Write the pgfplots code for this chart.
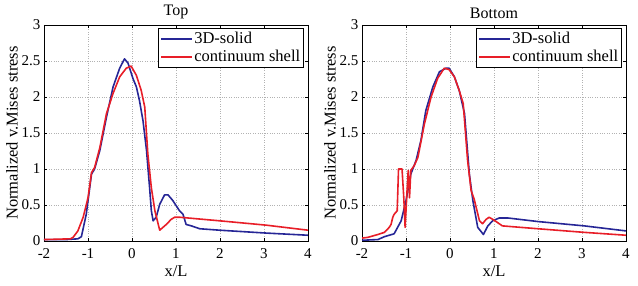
\documentclass[border=0pt]{standalone}
\usepackage{fontspec}
\setmainfont{Liberation Serif}
\usepackage{pgfplots}
\pgfplotsset{compat=1.18}
\definecolor{mblue}{RGB}{38,38,150}
\definecolor{mred}{RGB}{232,30,40}
\pgfplotsset{myax/.style={
  scale only axis, width=264pt, height=216pt,
  xmin=-2, xmax=4, ymin=0, ymax=3,
  xtick={-2,-1,0,1,2,3,4}, ytick={0,0.5,1,1.5,2,2.5,3},
  grid=major, grid style={dotted, gray!60, line width=0.6pt},
  tick align=inside, major tick length=3pt,
  tick style={black, line width=0.4pt},
  axis line style={black, line width=0.5pt},
  tick label style={font=\fontsize{15}{16}\selectfont},
  label style={font=\fontsize{16.5}{18}\selectfont},
  title style={font=\fontsize{16}{18}\selectfont, yshift=-3pt},
  /pgf/number format/assume math mode=true,
  xlabel={x/L}, ylabel={Normalized v.Mises stress},
  xlabel style={yshift=0pt},
  ylabel style={yshift=-3pt},
  xticklabel style={yshift=-4pt},
  yticklabel style={xshift=0pt},
  legend style={at={(0.9848,0.985)}, anchor=north east, draw=black, line width=0.6pt,
    font=\fontsize{16.5}{18}\selectfont, inner xsep=2pt, inner ysep=1.5pt, row sep=0pt,
    nodes={inner sep=1.5pt, text height=11.5pt, text depth=3.5pt}},
  legend cell align=left,
  legend image code/.code={\draw[#1] (0pt,0pt) -- (31pt,0pt);},
  every axis plot/.append style={line width=1.6pt, line join=round},
}}
\begin{document}
\begin{tikzpicture}
\useasboundingbox (0,0) rectangle (638pt,286pt);
\begin{axis}[myax, at={(44pt,45pt)}, anchor=south west, title={Top}]
\addplot[mblue] coordinates {
(-2,0.02) (-1.5,0.02) (-1.23,0.03) (-1.15,0.06) (-1.04,0.37) (-0.92,0.93) (-0.85,1.0) (-0.73,1.26)
(-0.58,1.72) (-0.43,2.14) (-0.28,2.40) (-0.17,2.53) (-0.09,2.47) (0.02,2.26) (0.1,2.14) (0.17,1.95)
(0.25,1.67) (0.33,1.26) (0.40,0.74) (0.44,0.42) (0.48,0.28) (0.55,0.33) (0.63,0.51) (0.74,0.64)
(0.82,0.64) (0.93,0.56) (1.08,0.42) (1.16,0.37) (1.23,0.23) (1.35,0.21) (1.54,0.17) (1.99,0.15)
(3.05,0.11) (4,0.08)};
\addlegendentry{3D-solid}
\addplot[mred] coordinates {
(-2,0.02) (-1.4,0.03) (-1.34,0.05) (-1.23,0.14) (-1.11,0.33) (-1.0,0.60) (-0.92,0.95) (-0.85,1.02)
(-0.73,1.30) (-0.58,1.77) (-0.43,2.05) (-0.28,2.28) (-0.13,2.40) (-0.02,2.43) (0.1,2.30) (0.21,2.09)
(0.29,1.86) (0.36,1.21) (0.44,0.74) (0.52,0.42) (0.63,0.15) (0.78,0.23) (0.89,0.30) (0.97,0.33)
(1.08,0.33) (2.0,0.28) (3.05,0.22) (4,0.15)};
\addlegendentry{continuum shell}
\end{axis}
\begin{axis}[myax, at={(362pt,45pt)}, anchor=south west, title={Bottom}]
\addplot[mblue] coordinates {
(-2,0.01) (-1.64,0.02) (-1.49,0.06) (-1.27,0.10) (-1.11,0.28) (-1.0,0.56) (-0.89,0.93) (-0.77,1.12)
(-0.66,1.40) (-0.55,1.81) (-0.39,2.14) (-0.24,2.35) (-0.09,2.40) (-0.02,2.40) (0.1,2.28) (0.21,2.09)
(0.33,1.77) (0.44,0.93) (0.52,0.56) (0.63,0.19) (0.76,0.09) (0.86,0.21) (0.97,0.28) (1.12,0.32)
(1.31,0.32) (2.0,0.27) (3.05,0.21) (4,0.14)};
\addlegendentry{3D-solid}
\addplot[mred] coordinates {
(-2,0.04) (-1.87,0.05) (-1.64,0.09) (-1.49,0.12) (-1.38,0.19) (-1.34,0.23) (-1.30,0.33) (-1.27,0.37)
(-1.20,0.42) (-1.17,1.0) (-1.09,1.0) (-1.05,0.60) (-1.02,0.19) (-0.98,0.65) (-0.95,0.98) (-0.92,0.60)
(-0.89,0.98) (-0.81,1.05) (-0.73,1.16) (-0.58,1.63) (-0.43,2.0) (-0.28,2.26) (-0.13,2.40) (-0.02,2.38)
(0.1,2.28) (0.21,2.09) (0.30,1.91) (0.40,1.12) (0.48,0.70) (0.55,0.58) (0.67,0.28) (0.74,0.24)
(0.82,0.30) (0.89,0.33) (1.0,0.29) (1.19,0.21) (1.39,0.20) (2.0,0.17) (3.05,0.12) (4,0.08)};
\addlegendentry{continuum shell}
\end{axis}
\end{tikzpicture}
\end{document}
